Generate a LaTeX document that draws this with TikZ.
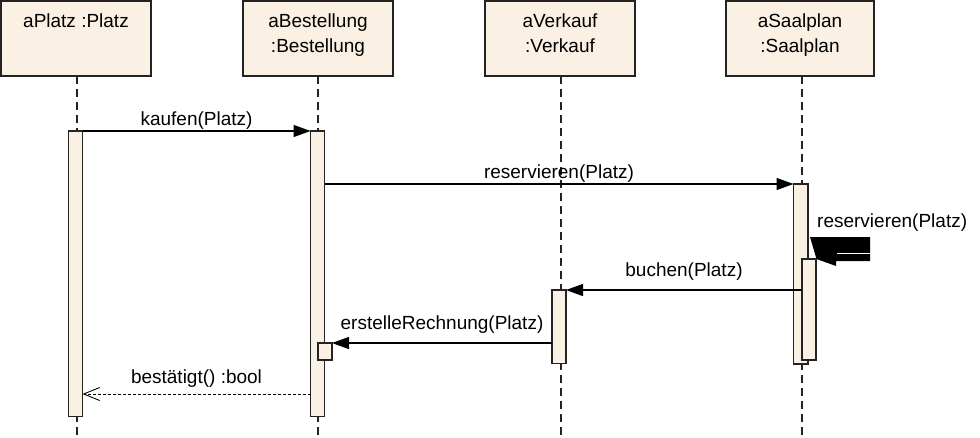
\documentclass[tikz,border=0pt]{standalone}
\usepackage{fontspec}
\setmainfont{Liberation Sans}
\usetikzlibrary{arrows.meta}
\definecolor{boxfill}{RGB}{250,240,227}
\definecolor{edgecol}{RGB}{35,35,35}
\begin{document}
\begin{tikzpicture}[x=1pt,y=-1pt,
  font=\fontsize{19}{25}\selectfont,
  head/.style={draw=edgecol, fill=boxfill, line width=1.3pt, minimum width=150pt, minimum height=75pt, inner sep=0pt},
  headtext/.style={anchor=north, align=center, inner sep=0pt, yshift=-13pt},
  bar/.style={draw=edgecol, fill=boxfill, line width=1.3pt},
  lifeline/.style={draw=edgecol, line width=1.2pt, dash pattern=on 8pt off 5pt},
  msg/.style={draw=black, line width=1.2pt, -{Triangle[length=17pt,width=12pt]}},
  ret/.style={draw=black, line width=0.9pt, dash pattern=on 3pt off 2pt, -{Straight Barb[length=16pt,width=13pt,line width=0.9pt]}},
  lbl/.style={anchor=base, inner sep=0pt}
]
\useasboundingbox (0,0) rectangle (980,437);

% heads
\node[head] (h1) at (76,38.5) {};
\node[headtext] (t1) at (h1.north) {aPlatz :Platz};
\node[head] (h2) at (318,38.5) {};
\node[headtext] (t2) at (h2.north) {aBestellung\\:Bestellung};
\node[head] (h3) at (560,38.5) {};
\node[headtext] (t3) at (h3.north) {aVerkauf\\:Verkauf};
\node[head, minimum width=148pt] (h4) at (800,38.5) {};
\node[headtext] (t4) at (h4.north) {aSaalplan\\:Saalplan};

% lifelines
\coordinate (l1t) at (77,76);  \coordinate (l1b) at (77,437);
\coordinate (l2t) at (318,76); \coordinate (l2b) at (318,437);
\coordinate (l3t) at (561,76); \coordinate (l3b) at (561,437);
\coordinate (l4t) at (802,76); \coordinate (l4b) at (802,437);
\draw[lifeline] (l1t) -- (l1b);
\draw[lifeline] (l2t) -- (l2b);
\draw[lifeline] (l3t) -- (l3b);
\draw[lifeline] (l4t) -- (l4b);

% activation bars
\draw[bar] (68.5,131) rectangle (82.5,416.5);
\draw[bar] (310.5,131) rectangle (324.5,416.5);
\draw[bar] (318,343) rectangle (332,360);
\draw[bar] (552,290) rectangle (566,363.5);
\draw[bar] (793.5,184) rectangle (808,364);
\draw[bar] (802,259) rectangle (816,360);

% message anchors
\coordinate (m1a) at (82.5,131);  \coordinate (m1b) at (310.5,131);
\coordinate (m2a) at (324.5,184); \coordinate (m2b) at (793.5,184);
\coordinate (m3a) at (802,290);   \coordinate (m3b) at (566,290);
\coordinate (m4a) at (552,343);   \coordinate (m4b) at (332,343);
\coordinate (m5a) at (310.5,394); \coordinate (m5b) at (82.5,394);

\draw[msg] (m1a) -- node[lbl, pos=0.5, yshift=6pt] (k1) {kaufen(Platz)} (m1b);
\draw[msg] (m2a) -- node[lbl, pos=0.5, yshift=6pt] (k2) {reservieren(Platz)} (m2b);
\draw[msg] (m3a) -- node[lbl, pos=0.5, yshift=14pt] (k3) {buchen(Platz)} (m3b);
\draw[msg] (m4a) -- node[lbl, pos=0.5, yshift=14pt] (k4) {erstelleRechnung(Platz)} (m4b);
\draw[ret] (m5a) -- node[lbl, pos=0.5, yshift=11pt] (k5) {bestätigt() :bool} (m5b);

% self message (rendered as in the reference)
\coordinate (s1) at (810,237);
\coordinate (s2) at (870,237);
\coordinate (s3) at (870,261);
\coordinate (s4) at (836,261);
\coordinate (s5) at (836,266);
\coordinate (s6) at (816.5,259);
\fill[black] (s1) -- (s2) -- (s3) -- (s4) -- (s5) -- (s6) -- cycle;
\coordinate (w1) at (837,253); \coordinate (w2) at (870,253);
\draw[white, line width=0.7pt] (w1) -- (w2);
\node[anchor=base west, inner sep=0pt] (k6) at (817,227) {reservieren(Platz)};
\end{tikzpicture}
\end{document}
